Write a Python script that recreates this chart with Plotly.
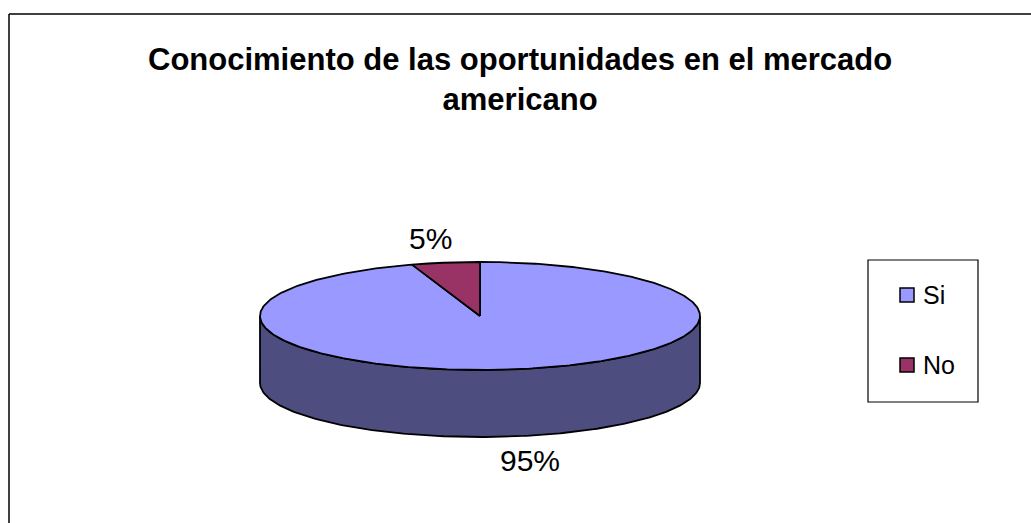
import numpy as np
import plotly.graph_objects as go

# ---- data ----
categories = ["Si", "No"]
values = [95, 5]
labels_pct = ["95%", "5%"]
title_text = "Conocimiento de las oportunidades en el mercado<br>americano"

# ---- styling ----
top_colors = {"Si": "#9999ff", "No": "#993366"}
side_colors = {"Si": "#4d4d80", "No": "#4d1a33"}
FONT = "Arial, Liberation Sans, sans-serif"
W, H = 1031, 523
cx, cy, a, b, depth = 480.0, 316.0, 220.0, 54.0, 67.0

fig = go.Figure()

total = float(sum(values))
spans = [v / total * 360.0 for v in values]
slices = []
start = 90.0
for cat, sp, lab in zip(categories, spans, labels_pct):
    slices.append((cat, start - sp, start, lab))
    start -= sp


def pt(t, dz=0.0):
    r = np.radians(t)
    return cx + a * np.cos(r), cy - b * np.sin(r) + dz


# ---- sides (front half only: angles 180..360) ----
for cat, t0, t1, lab in slices:
    for shift in (-360, 0, 360):
        s0, s1 = max(t0 + shift, 180.0), min(t1 + shift, 360.0)
        if s1 > s0:
            ts = np.linspace(s0, s1, 200)
            xt, yt = pt(ts)
            xb, yb = pt(ts[::-1], depth)
            xs = np.concatenate([xt, xb, xt[:1]])
            ys = np.concatenate([yt, yb, yt[:1]])
            fig.add_trace(go.Scatter(x=xs, y=ys, mode="lines", fill="toself",
                                     fillcolor=side_colors[cat],
                                     line=dict(color="black", width=1.8),
                                     hoverinfo="skip", showlegend=False))

# ---- top faces ----
for cat, t0, t1, lab in slices:
    ts = np.linspace(t0, t1, 400)
    xt, yt = pt(ts)
    xs = np.concatenate([[cx], xt, [cx]])
    ys = np.concatenate([[cy], yt, [cy]])
    fig.add_trace(go.Scatter(x=xs, y=ys, mode="lines", fill="toself",
                             fillcolor=top_colors[cat],
                             line=dict(color="black", width=1.8),
                             hoverinfo="skip", showlegend=False, name=cat))

# ---- percentage labels ----
annotations = []
for cat, t0, t1, lab in slices:
    mid = (t0 + t1) / 2.0
    r = np.radians(mid)
    s = np.sin(r)
    lx = cx + 1.45 * a * np.cos(r)
    ly = cy - b * s + (depth if s < 0 else 0.0) + (24.0 if s < 0 else -24.0)
    annotations.append(dict(x=lx, y=ly, xref="x", yref="y", text=lab, showarrow=False,
                            font=dict(family=FONT, size=30, color="black"),
                            xanchor="center", yanchor="middle"))

# ---- title ----
annotations.append(dict(x=520, y=79, xref="x", yref="y", text="<b>" + title_text + "</b>",
                        showarrow=False, font=dict(family=FONT, size=31, color="black"),
                        xanchor="center", yanchor="middle"))

# ---- frame and legend (manual) ----
shapes = [
    dict(type="line", xref="x", yref="y", x0=9, y0=14, x1=1031, y1=14,
         line=dict(color="black", width=1.5)),
    dict(type="line", xref="x", yref="y", x0=9, y0=14, x1=9, y1=523,
         line=dict(color="black", width=1.5)),
    dict(type="rect", xref="x", yref="y", x0=868, y0=260, x1=978, y1=402,
         line=dict(color="black", width=1.2), fillcolor="white"),
]
leg_y = [295, 365]
for cat, yy in zip(categories, leg_y):
    shapes.append(dict(type="rect", xref="x", yref="y", x0=900, y0=yy - 7, x1=914, y1=yy + 7,
                       line=dict(color="black", width=1.5), fillcolor=top_colors[cat]))
    annotations.append(dict(x=921, y=yy, xref="x", yref="y", text=cat, showarrow=False,
                            font=dict(family=FONT, size=25, color="black"),
                            xanchor="left", yanchor="middle"))

fig.update_layout(
    width=W, height=H,
    margin=dict(l=0, r=0, t=0, b=0),
    paper_bgcolor="white", plot_bgcolor="white",
    xaxis=dict(range=[0, W], visible=False, fixedrange=True),
    yaxis=dict(range=[H, 0], visible=False, fixedrange=True),
    shapes=shapes, annotations=annotations,
    showlegend=False,
)

fig.write_html("out.html")
